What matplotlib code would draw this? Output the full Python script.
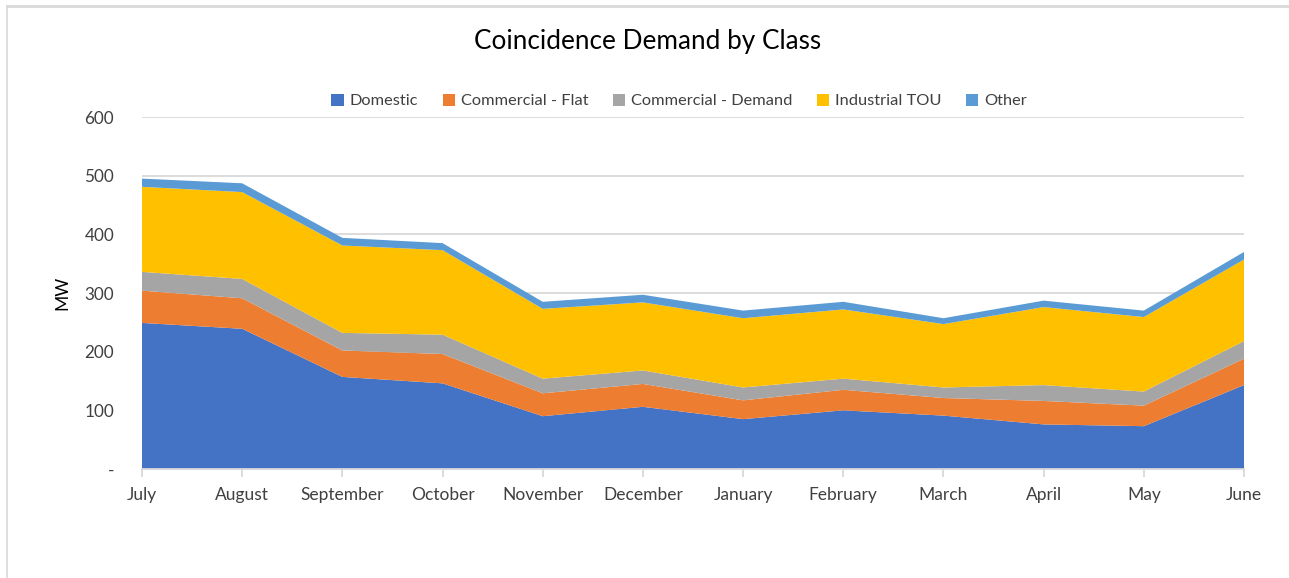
import matplotlib
matplotlib.use("Agg")
import matplotlib.pyplot as plt
from matplotlib.lines import Line2D
from matplotlib.patches import Patch

months = ["July", "August", "September", "October", "November", "December",
          "January", "February", "March", "April", "May", "June"]
domestic = [249, 239, 157, 146, 90, 106, 85, 100, 91, 76, 73, 143]
comm_flat = [55, 52, 45, 50, 39, 39, 32, 35, 30, 40, 35, 45]
comm_demand = [32, 33, 30, 33, 25, 23, 22, 19, 18, 27, 24, 30]
industrial = [145, 148, 149, 144, 119, 116, 118, 118, 108, 133, 127, 139]
other = [14, 15, 13, 12, 12, 13, 13, 13, 10, 11, 11, 13]
series_names = ["Domestic", "Commercial - Flat", "Commercial - Demand", "Industrial TOU", "Other"]
colors = ["#4472C4", "#ED7D31", "#A5A5A5", "#FFC000", "#5B9BD5"]
yticks = [0, 100, 200, 300, 400, 500, 600]
ytick_labels = ["-", "100", "200", "300", "400", "500", "600"]

plt.rcParams['font.family'] = ['Lato', 'DejaVu Sans']

W, H = 1289, 578
fig = plt.figure(figsize=(W / 100, H / 100), dpi=100)
# chart border (top and left edges visible)
fig.lines.append(Line2D([7 / W, 1.0], [1 - 6 / H, 1 - 6 / H], transform=fig.transFigure,
                        color="#D9D9D9", linewidth=2))
fig.lines.append(Line2D([7 / W, 7 / W], [0, 1 - 6 / H], transform=fig.transFigure,
                        color="#D9D9D9", linewidth=1.2))

ax = fig.add_axes([142 / W, 1 - 469 / H, (1244 - 142) / W, (469 - 117) / H])
x = list(range(len(months)))
ax.stackplot(x, domestic, comm_flat, comm_demand, industrial, other,
             colors=colors, labels=series_names, linewidth=0)

ax.set_xlim(0, len(months) - 1)
ax.set_ylim(0, 600)
ax.set_yticks(yticks)
ax.set_yticklabels(ytick_labels, fontsize=12.3, color="#404040")
ax.set_xticks(x)
ax.set_xticklabels(months, fontsize=12.5, color="#404040")
ax.yaxis.grid(True, color="#D9D9D9", linewidth=1.3)
ax.set_axisbelow(True)
for s in ["top", "right", "left"]:
    ax.spines[s].set_visible(False)
ax.spines["bottom"].set_color("#D9D9D9")
ax.spines["bottom"].set_linewidth(1.3)
ax.tick_params(axis="y", length=0, pad=20)
ax.tick_params(axis="x", length=6, color="#D9D9D9", width=1.3, pad=7)
ax.set_ylabel("MW", fontsize=12.5, color="#000000", labelpad=0)
ax.yaxis.set_label_coords((70 - 142) / (1244 - 142), 0.5)

fig.text(648 / W, 1 - 41 / H, "Coincidence Demand by Class", ha="center", va="center",
         fontsize=18.8, color="#000000")

handles = [Patch(facecolor=c, edgecolor="none") for c in colors]
fig.legend(handles, series_names, loc="center", bbox_to_anchor=(679 / W, 1 - 101 / H),
           ncol=5, frameon=False, fontsize=11.8, handlelength=0.75, handleheight=0.75,
           handletextpad=0.35, columnspacing=1.5, labelcolor="#404040",
           borderpad=0, borderaxespad=0)

fig.savefig("out.png", dpi=100)
